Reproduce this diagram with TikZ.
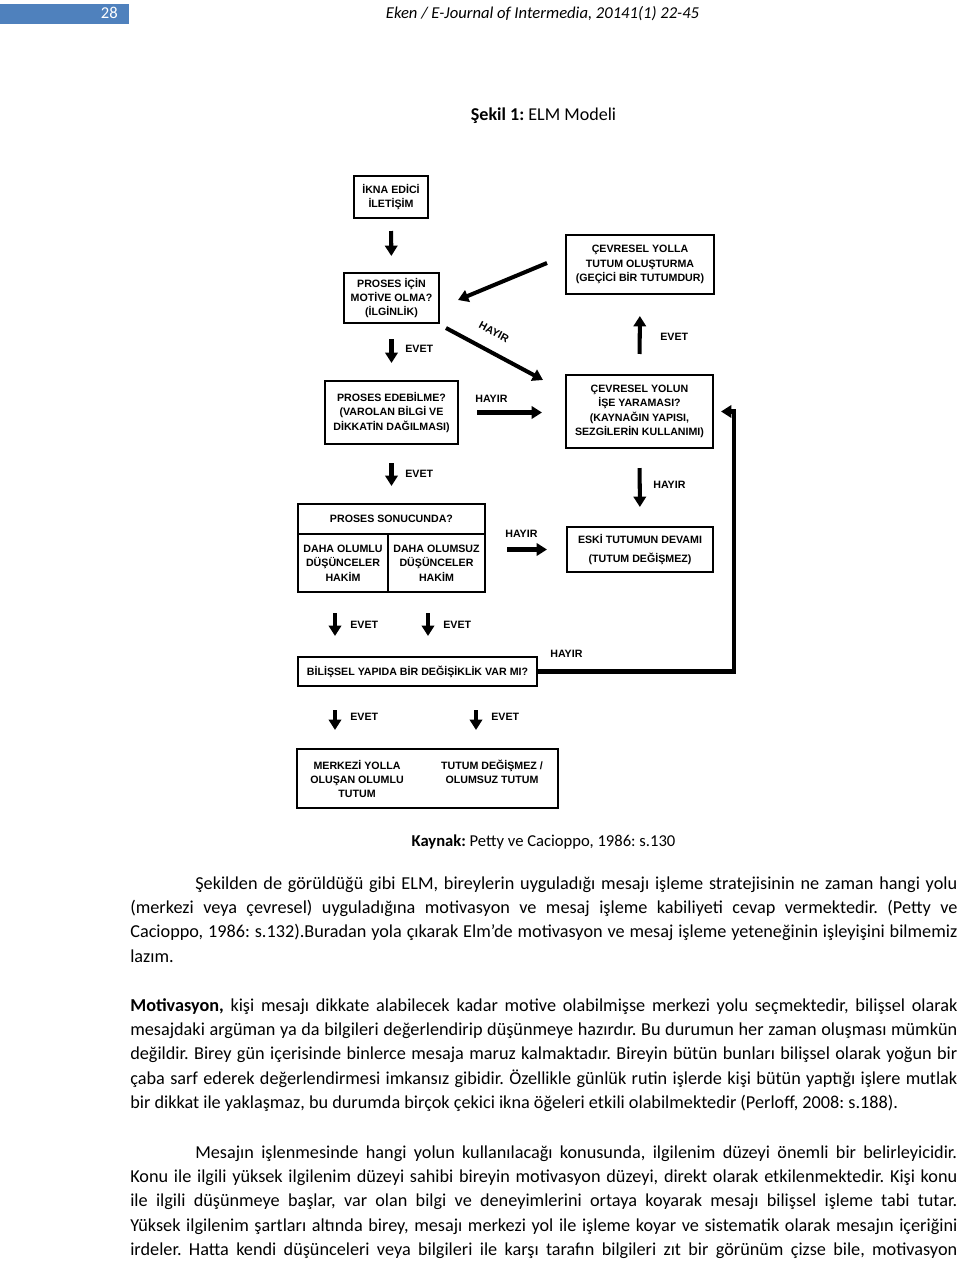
\documentclass[tikz,border=0pt]{standalone}
\usepackage{fontspec}
\setmainfont{Carlito}
\newfontfamily\dfont{Liberation Sans}
\usetikzlibrary{arrows.meta,calc}
\definecolor{hdrblue}{RGB}{79,129,189}
\def\PX{0.62pt}
\newlength\bw
\setlength\bw{512.74pt}
\newlength\bwi
\setlength\bwi{472.44pt}
\newcommand\jl[1]{{\spaceskip=0pt\xspaceskip=0pt\makebox[\bw][s]{#1}}}
\newcommand\jli[1]{{\spaceskip=0pt\xspaceskip=0pt\hspace*{40.3pt}\makebox[\bwi][s]{#1}}}
\frenchspacing
\begin{document}
\begin{tikzpicture}[x=0.62pt,y=-0.62pt,
  dfnt/.style={font=\dfont\bfseries\fontsize{6.6}{8.9}\selectfont},
  box/.style={dfnt, draw, line width=1.25pt, inner sep=0pt, align=center},
  lbl/.style={dfnt, inner sep=0pt, anchor=west},
  txt/.style={dfnt, inner sep=0pt, align=center},
  arr/.style={line width=2.5pt, -{Triangle[width=7.6pt,length=6.4pt]}},
  bodytxt/.style={font=\frenchspacing\fontsize{11.3}{15.16}\selectfont, inner sep=0pt, anchor=base west, text width=512.74pt, align=justify},
  plain/.style={font=\fontsize{10.3}{12}\selectfont, inner sep=0pt, anchor=base}]
\useasboundingbox (0,0) rectangle (960,1262);

% header
\node[fill=hdrblue, minimum width=129*\PX, minimum height=20*\PX, anchor=north west, inner sep=0pt] (pg) at (0,4) {};
\node[plain, anchor=base east, text=white] (pgn) at (118,19) {28};
\node[plain, font=\itshape\fontsize{10.3}{12}\selectfont] (hdr) at (542.5,19) {Eken / E-Journal of Intermedia, 20141(1) 22-45};
\node[plain, font=\fontsize{11.2}{13}\selectfont] (cap) at (543.5,121) {\textbf{Şekil 1:} ELM Modeli};

% diagram boxes
\node[box, minimum width=74*\PX, minimum height=42*\PX] (ikna) at (391,197) {İKNA EDİCİ\\İLETİŞİM};
\node[box, minimum width=95*\PX, minimum height=50*\PX] (motive) at (391.5,298) {PROSES İÇİN\\MOTİVE OLMA?\\(İLGİNLİK)};
\node[box, minimum width=133*\PX, minimum height=63*\PX] (edeb) at (391.5,412.5) {PROSES EDEBİLME?\\(VAROLAN BİLGİ VE\\DİKKATİN DAĞILMASI)};
\node[box, minimum width=148*\PX, minimum height=59*\PX] (yolla) at (640,264.5) {ÇEVRESEL YOLLA\\TUTUM OLUŞTURMA\\(GEÇİCİ BİR TUTUMDUR)};
\node[box, minimum width=147*\PX, minimum height=73*\PX] (yolun) at (639.5,411.5) {ÇEVRESEL YOLUN\\İŞE YARAMASI?\\(KAYNAĞIN YAPISI,\\SEZGİLERİN KULLANIMI)};
\node[box, minimum width=146*\PX, minimum height=45*\PX] (eski) at (640,549.5) {ESKİ TUTUMUN DEVAMI\\[3pt](TUTUM DEĞİŞMEZ)};
\node[box, minimum width=187*\PX, minimum height=30*\PX] (sonh) at (391.5,519) {PROSES SONUCUNDA?};
\node[box, minimum width=90*\PX, minimum height=58*\PX] (sonl) at (343,563) {DAHA OLUMLU\\DÜŞÜNCELER\\HAKİM};
\node[box, minimum width=97*\PX, minimum height=58*\PX] (sonr) at (436.5,563) {DAHA OLUMSUZ\\DÜŞÜNCELER\\HAKİM};
\node[box, minimum width=239*\PX, minimum height=29*\PX] (bil) at (417.5,671.5) {BİLİŞSEL YAPIDA BİR DEĞİŞİKLİK VAR MI?};
\node[box, minimum width=261*\PX, minimum height=59*\PX] (sonuc) at (427.5,778.5) {};
\node[txt] (merk) at (357,779) {MERKEZİ YOLLA\\OLUŞAN OLUMLU\\TUTUM};
\node[txt] (olum) at (492,772) {TUTUM DEĞİŞMEZ /\\OLUMSUZ TUTUM};

% helper coordinates
\coordinate (xa) at (335,0);
\coordinate (xb) at (428,0);
\coordinate (xc) at (476,0);
\coordinate (xl) at (734,0);
\coordinate (d1s) at (547,263);
\coordinate (d1e) at (458,300);
\coordinate (d2s) at (446,328);
\coordinate (d2e) at (543,380);

% arrows
\draw[arr, shorten <=7.44pt, shorten >=9.92pt] (ikna.south) -- (motive.north);
\draw[arr, shorten <=9.3pt, shorten >=10.54pt] (motive.south) -- (edeb.north);
\draw[arr, shorten <=11.16pt, shorten >=10.54pt] (edeb.south) -- (sonh.north);
\draw[arr, shorten <=12.4pt, shorten >=12.4pt] (xa |- sonl.south) -- (xa |- bil.north);
\draw[arr, shorten <=12.4pt, shorten >=12.4pt] (xb |- sonr.south) -- (xb |- bil.north);
\draw[arr, shorten <=14.26pt, shorten >=11.16pt] (xa |- bil.south) -- (xa |- sonuc.north);
\draw[arr, shorten <=14.26pt, shorten >=11.16pt] (xc |- bil.south) -- (xc |- sonuc.north);
\draw[arr, shorten <=12.4pt, shorten >=13.02pt] (yolun.north) -- (yolla.south);
\draw[arr, shorten <=11.78pt, shorten >=11.78pt] (yolun.south) -- (eski.north);
\draw[arr, shorten <=11.16pt, shorten >=14.26pt] (edeb.east) -- (edeb.east -| yolun.west);
\draw[arr, shorten <=13.02pt, shorten >=11.78pt] (sonr.east |- eski.west) -- (eski.west);
\draw[arr] (d1s) -- (d1e);
\draw[arr] (d2s) -- (d2e);
\draw[arr, shorten >=4.34pt] (bil.east) -| (xl |- yolun.east) -- (yolun.east);

% labels
\node[lbl] (l1) at (405,349) {EVET};
\node[dfnt, inner sep=0pt, rotate=-28] (l2) at (494,332) {HAYIR};
\node[lbl] (l3) at (475,399) {HAYIR};
\node[lbl] (l4) at (660,337) {EVET};
\node[lbl] (l5) at (405,474) {EVET};
\node[lbl] (l6) at (653,485) {HAYIR};
\node[lbl] (l7) at (505,534) {HAYIR};
\node[lbl] (l8) at (350,625) {EVET};
\node[lbl] (l9) at (443,625) {EVET};
\node[lbl] (l10) at (550,654) {HAYIR};
\node[lbl] (l11) at (350,717) {EVET};
\node[lbl] (l12) at (491,717) {EVET};

% source and body text
\node[plain] (kay) at (543.5,846) {\textbf{Kaynak:} Petty ve Cacioppo, 1986: s.130};

\node[bodytxt] (p1) at (130,889) {%
\jli{Şekilden de görüldüğü gibi ELM, bireylerin uyguladığı mesajı işleme stratejisinin ne zaman hangi yolu}\\
\jl{(merkezi veya çevresel) uyguladığına motivasyon ve mesaj işleme kabiliyeti cevap vermektedir. (Petty ve}\\
\jl{Cacioppo, 1986: s.132).Buradan yola çıkarak Elm’de motivasyon ve mesaj işleme yeteneğinin işleyişini bilmemiz}\\
lazım.};

\node[bodytxt] (p2) at (130,1011) {%
\jl{\textbf{Motivasyon,} kişi mesajı dikkate alabilecek kadar motive olabilmişse merkezi yolu seçmektedir, bilişsel olarak}\\
\jl{mesajdaki argüman ya da bilgileri değerlendirip düşünmeye hazırdır. Bu durumun her zaman oluşması mümkün}\\
\jl{değildir. Birey gün içerisinde binlerce mesaja maruz kalmaktadır. Bireyin bütün bunları bilişsel olarak yoğun bir}\\
\jl{çaba sarf ederek değerlendirmesi imkansız gibidir. Özellikle günlük rutin işlerde kişi bütün yaptığı işlere mutlak}\\
{\spaceskip=0pt\xspaceskip=0pt bir dikkat ile yaklaşmaz, bu durumda birçok çekici ikna öğeleri etkili olabilmektedir (Perloff, 2008: s.188).}};

\node[bodytxt] (p3) at (130,1158) {%
\jli{Mesajın işlenmesinde hangi yolun kullanılacağı konusunda, ilgilenim düzeyi önemli bir belirleyicidir.}\\
\jl{Konu ile ilgili yüksek ilgilenim düzeyi sahibi bireyin motivasyon düzeyi, direkt olarak etkilenmektedir. Kişi konu}\\
\jl{ile ilgili düşünmeye başlar, var olan bilgi ve deneyimlerini ortaya koyarak mesajı bilişsel işleme tabi tutar.}\\
\jl{Yüksek ilgilenim şartları altında birey, mesajı merkezi yol ile işleme koyar ve sistematik olarak mesajın içeriğini}\\
\jl{irdeler. Hatta kendi düşünceleri veya bilgileri ile karşı tarafın bilgileri zıt bir görünüm çizse bile, motivasyon}};
\end{tikzpicture}
\end{document}
